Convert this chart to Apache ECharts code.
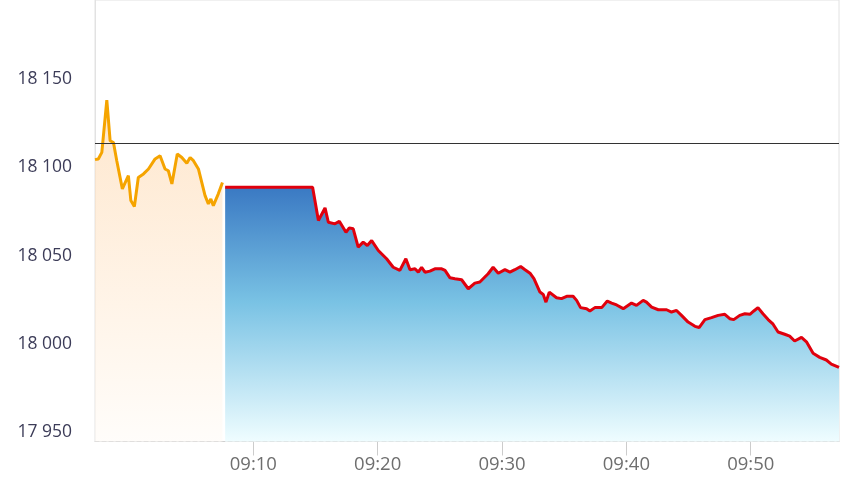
<!DOCTYPE html>
<html>
<head>
<meta charset="utf-8">
<script src="https://cdn.jsdelivr.net/npm/echarts@6/dist/echarts.min.js"></script>
<style>
html,body{margin:0;padding:0;background:#fff;}
#chart{width:846px;height:496px;}
</style>
</head>
<body>
<div id="chart"></div>
<script>
// Pre-session (orange) series
const preTimes = ["08:57:16","08:57:32","08:57:49","08:58:13","08:58:29","08:58:45","08:59:01","08:59:28","08:59:57","09:00:09","09:00:26","09:00:45","09:01:10","09:01:34","09:02:06","09:02:30","09:02:54","09:03:10","09:03:27","09:03:53","09:04:15","09:04:39","09:04:55","09:05:11","09:05:35","09:06:07","09:06:23","09:06:35","09:06:47","09:07:11","09:07:31"];
const preValues = [18104.4,18104.8,18108.5,18138.1,18115.1,18114.1,18103.8,18087.8,18095.3,18081.2,18077.8,18094.3,18096.3,18099.1,18104.8,18106.6,18099.1,18098.1,18090.6,18107.6,18105.6,18102.3,18105.6,18103.8,18099.1,18084.0,18079.3,18082.1,18078.3,18085.0,18091.5];

// Main session (red line / blue area) series
const mainTimes = ["09:07:44","09:14:46","09:15:14","09:15:46","09:16:02","09:16:34","09:16:55","09:17:27","09:17:43","09:18:02","09:18:26","09:18:50","09:19:10","09:19:31","09:20:03","09:20:43","09:21:15","09:21:47","09:22:16","09:22:36","09:23:00","09:23:16","09:23:32","09:23:48","09:24:12","09:24:36","09:25:09","09:25:25","09:25:49","09:26:13","09:26:45","09:27:17","09:27:49","09:28:13","09:28:53","09:29:17","09:29:42","09:30:14","09:30:38","09:31:02","09:31:30","09:31:51","09:32:15","09:32:34","09:33:03","09:33:19","09:33:32","09:33:48","09:34:23","09:34:47","09:35:12","09:35:43","09:36:00","09:36:19","09:36:48","09:37:04","09:37:28","09:38:01","09:38:28","09:38:49","09:39:13","09:39:45","09:40:25","09:40:49","09:41:21","09:41:37","09:42:02","09:42:34","09:43:14","09:43:38","09:44:02","09:44:26","09:44:58","09:45:31","09:45:51","09:46:19","09:46:51","09:47:23","09:47:55","09:48:19","09:48:38","09:49:07","09:49:32","09:49:56","09:50:15","09:50:35","09:50:59","09:51:24","09:51:48","09:52:12","09:52:44","09:53:08","09:53:32","09:54:05","09:54:29","09:55:01","09:55:33","09:56:05","09:56:29","09:57:06"];
const mainValues = [18088.7,18088.7,18069.9,18077.0,18068.9,18068.0,18069.5,18063.2,18065.7,18065.2,18054.8,18057.6,18055.7,18058.5,18052.9,18048.2,18043.4,18041.6,18048.2,18042.0,18042.5,18040.6,18043.4,18040.6,18041.2,18042.5,18042.5,18041.6,18037.4,18036.9,18036.3,18031.2,18034.4,18035.0,18039.7,18043.4,18040.0,18042.0,18040.6,18042.0,18043.8,18042.0,18040.0,18036.9,18029.3,18028.0,18023.6,18029.3,18026.1,18025.6,18026.9,18026.9,18024.6,18020.5,18019.9,18018.6,18020.5,18020.5,18024.2,18023.1,18022.0,18019.9,18023.1,18021.8,18024.6,18023.6,18020.8,18019.3,18019.3,18018.0,18018.9,18016.1,18012.3,18009.9,18009.2,18013.7,18014.8,18016.1,18016.7,18014.2,18013.7,18016.1,18017.0,18016.7,18018.6,18020.5,18017.0,18013.7,18011.1,18006.7,18005.4,18004.3,18001.6,18003.6,18001.1,17994.6,17992.3,17990.8,17988.5,17986.6];

// Reference level (horizontal line)
const refLevel = 18113.6;

// Tick labels
const xTickLabels = ["09:10","09:20","09:30","09:40","09:50"];
const yTickValues = [17950,18000,18050,18100,18150];
const yRange = [17944.6, 18194.9];

function toMin(t){
  const p = t.split(":").map(Number);
  return p[0]*60 + p[1] + (p[2]||0)/60;
}
function fmtMin(v){
  const h = Math.floor(v/60), m = Math.round(v - h*60);
  return String(h).padStart(2,"0") + ":" + String(m).padStart(2,"0");
}
function fmtNum(v){
  return String(Math.round(v)).replace(/\B(?=(\d{3})+(?!\d))/g, " ");
}

const preData = preTimes.map((t,i)=>[toMin(t), preValues[i]]);
const mainData = mainTimes.map((t,i)=>[toMin(t), mainValues[i]]);
const xTickVals = xTickLabels.map(toMin);

const chart = echarts.init(document.getElementById("chart"), null, {renderer:"canvas"});
chart.setOption({
  animation:false,
  grid:{left:95, right:7, top:-1, bottom:54.5, show:true, borderColor:"#e2e2e2", borderWidth:1, backgroundColor:"transparent"},
  xAxis:{
    type:"value",
    min:"dataMin", max:"dataMax",
    axisLine:{show:true, lineStyle:{color:"#cfcfcf", type:[4,3], width:1}},
    axisTick:{show:true, length:14, customValues:xTickVals, lineStyle:{color:"#cccccc"}},
    axisLabel:{customValues:xTickVals, formatter:fmtMin, color:"#6e6e6e", fontSize:18.5, fontFamily:"Open Sans", margin:14},
    splitLine:{show:false}
  },
  yAxis:{
    type:"value",
    min:yRange[0], max:yRange[1],
    axisLine:{show:true, lineStyle:{color:"#e2e2e2"}},
    axisTick:{show:false},
    axisLabel:{customValues:yTickValues, formatter:fmtNum, color:"#3c3c58", fontSize:17.5, fontFamily:"Open Sans", margin:23},
    splitLine:{show:false}
  },
  series:[
    {
      type:"line", data:preData, showSymbol:false, symbol:"none",
      lineStyle:{color:"#f5a400", width:3},
      areaStyle:{color:new echarts.graphic.LinearGradient(0,0,0,1,[
        {offset:0,color:"#fddcb7"},{offset:1,color:"#fffbf7"}])},
      z:2
    },
    {
      type:"line", data:mainData, showSymbol:false, symbol:"none",
      lineStyle:{color:"#e0000d", width:3},
      areaStyle:{opacity:1, color:new echarts.graphic.LinearGradient(0,0,0,1,[
        {offset:0,color:"#3a79c3"},{offset:0.45,color:"#79c2e4"},{offset:1,color:"#effdff"}])},
      markLine:{silent:true, symbol:"none", label:{show:false},
        lineStyle:{color:"#333333", width:1, type:"solid"},
        data:[{yAxis:refLevel}]},
      z:3
    }
  ]
});
</script>
</body>
</html>
